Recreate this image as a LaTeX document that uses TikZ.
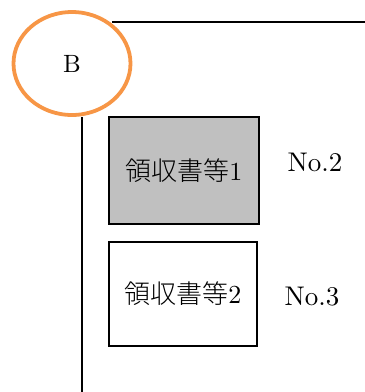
\documentclass[tikz,border=0pt]{standalone}
\usepackage{fontspec}
\setmainfont{lmroman10-regular}[Extension=.otf]
\newfontfamily\cjk{Noto Sans CJK JP Light}
\usetikzlibrary{shapes.geometric}
\definecolor{ringorange}{RGB}{247,150,70}
\definecolor{boxgray}{RGB}{192,192,192}
\tikzset{
  docbox/.style={draw=black, line width=1.4pt, inner sep=0pt, font=\fontsize{26}{30}\selectfont},
  numlabel/.style={inner sep=0pt, font=\fontsize{27}{30}\selectfont},
  frameline/.style={draw=black, line width=1.4pt}
}
\begin{document}
\begin{tikzpicture}[x=1pt, y=-1pt]
\useasboundingbox (0,0) rectangle (365,392);
% frame lines
\coordinate (t1) at (112,22);
\coordinate (t2) at (365,22);
\coordinate (v1) at (82,117);
\coordinate (v2) at (82,392);
\draw[frameline] (t1) -- (t2);
\draw[frameline] (v1) -- (v2);
% ellipse
\node[ellipse, draw=ringorange, line width=3.8pt, minimum width=117pt, minimum height=103pt, inner sep=0pt,
      font=\fontsize{25}{28}\selectfont] (B) at (72,63.5) {B};
% boxes
\node[docbox, fill=boxgray, minimum width=150pt, minimum height=107pt] (r1) at (184,170.5) {{\cjk 領収書等}1};
\node[docbox, fill=white, minimum width=148pt, minimum height=104pt] (r2) at (183,294) {{\cjk 領収書等}2};
% labels
\node[numlabel] (n2) at (315,162) {No.2};
\node[numlabel] (n3) at (312,297) {No.3};
\end{tikzpicture}
\end{document}
